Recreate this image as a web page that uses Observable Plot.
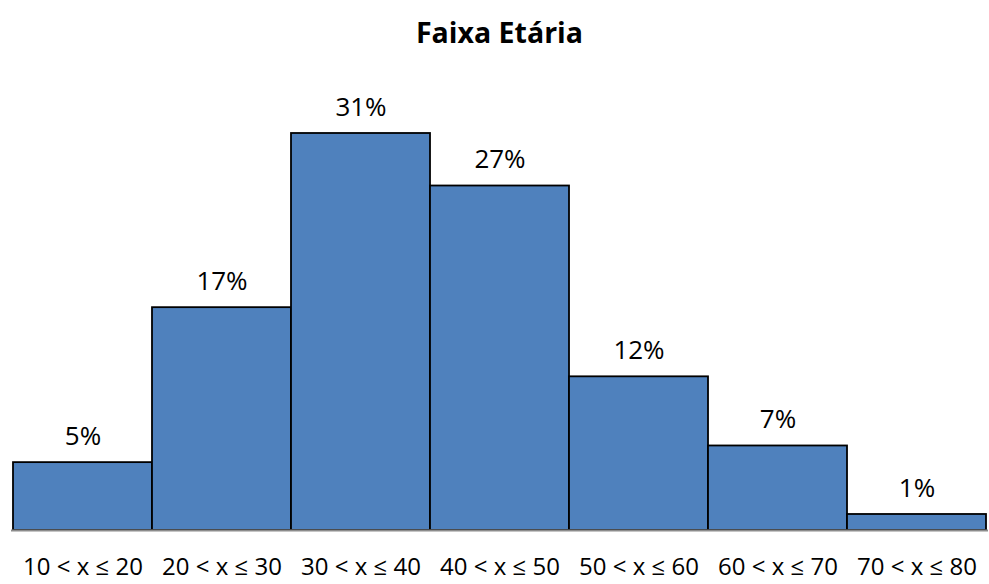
<!DOCTYPE html>
<html>
<head>
<meta charset="utf-8">
<script src="https://cdn.jsdelivr.net/npm/d3@7"></script>
<script src="https://cdn.jsdelivr.net/npm/@observablehq/plot@0.6"></script>
<style>
  body { margin: 0; background: #fff; font-family: "Open Sans", sans-serif; }
  #title { height: 60px; line-height: 64px; text-align: center; font-weight: bold; font-size: 28.5px; color: #000; padding-left: 10px; }
</style>
</head>
<body>
<div id="title">Faixa Etária</div>
<div id="chart"></div>
<script>
const categories = ["10 < x ≤ 20", "20 < x ≤ 30", "30 < x ≤ 40", "40 < x ≤ 50", "50 < x ≤ 60", "60 < x ≤ 70", "70 < x ≤ 80"];
const values = [5.3, 17.4, 31.0, 26.9, 12.0, 6.6, 1.25];
const data = categories.map((c, i) => ({category: c, value: values[i], label: Math.round(values[i]) + "%"}));

const chart = Plot.plot({
  width: 989,
  height: 524,
  marginLeft: 11,
  marginRight: 1,
  marginTop: 73,
  marginBottom: 54,
  style: {fontFamily: "Open Sans, sans-serif", fontSize: "24px", color: "#000", background: "#fff"},
  x: {domain: categories, padding: 0, label: null, axis: null},
  y: {domain: [0, 31], axis: null},
  marks: [
    Plot.barY(data, {x: "category", y: "value", fill: "#4F81BD", stroke: "#000", strokeWidth: 1.8, inset: 0}),
    Plot.ruleY([0], {stroke: "#8c8c8c", strokeWidth: 2}),
    Plot.text(data, {x: "category", y: "value", text: "label", dy: -26, fontSize: 26, fill: "#000"}),
    Plot.axisX({tickSize: 0, tickPadding: 27, fontSize: 24, label: null})
  ]
});
document.getElementById("chart").append(chart);
</script>
</body>
</html>
